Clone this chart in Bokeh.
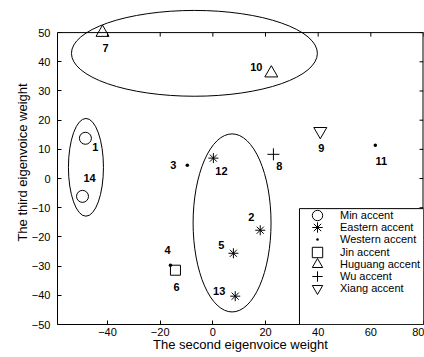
from bokeh.plotting import figure
from bokeh.models import (Range1d, FixedTicker, Span, Legend, LegendItem,
                          BoxAnnotation, ColumnDataSource)
from bokeh.core.properties import value
from bokeh.embed import file_html
from bokeh.resources import INLINE

# ---------------- data ----------------
x_ticks = [-40, -20, 0, 20, 40, 60, 80]
x_tick_labels = ["\u221240", "\u221220", "0", "20", "40", "60", "80"]
y_ticks = [-50, -40, -30, -20, -10, 0, 10, 20, 30, 40, 50]
y_tick_labels = ["\u221250", "\u221240", "\u221230", "\u221220", "\u221210", "0",
                 "10", "20", "30", "40", "50"]

min_ids = ["1", "14"]
min_x = [-48.4, -49.5]
min_y = [13.8, -6.1]

eastern_ids = ["12", "2", "5", "13"]
eastern_x = [0.2, 18.0, 7.8, 8.5]
eastern_y = [7.0, -17.7, -25.6, -40.3]

western_ids = ["3", "11", "4"]
western_x = [-9.7, 61.7, -16.1]
western_y = [4.6, 11.4, -29.7]

jin_ids = ["6"]
jin_x = [-14.2]
jin_y = [-31.4]

huguang_ids = ["7", "10"]
huguang_x = [-41.9, 22.2]
huguang_y = [50.0, 36.1]

wu_ids = ["8"]
wu_x = [23.0]
wu_y = [8.3]

xiang_ids = ["9"]
xiang_x = [40.8]
xiang_y = [16.2]

# cluster ellipses (centre, width, height in data units)
ellipse_cx = [-7.0, -48.2, 7.3]
ellipse_cy = [42.9, 3.85, -15.2]
ellipse_w = [93.4, 13.3, 29.6]
ellipse_h = [29.4, 33.5, 61.0]

# ---------------- styling ----------------
FONT = "Liberation Sans"
X_START, X_END = -59, 80
Y_START, Y_END = -50, 61
FIG_W, FIG_H = 424, 357
BORDER_L, BORDER_R, BORDER_T, BORDER_B = 57, 1, 0, 33
FRAME_W = FIG_W - BORDER_L - BORDER_R
FRAME_H = FIG_H - BORDER_T - BORDER_B
TICK = 4  # px, inward

# label offsets (screen px) for each point id
label_offsets = {"1": (10, 9), "14": (7, -18), "7": (3, 15), "10": (-15, -6),
                 "3": (-14, 0), "12": (8, 13), "8": (6, 12), "9": (1, 17),
                 "11": (6, 16), "2": (-9, -13), "5": (-12, -8), "13": (-16, -5),
                 "4": (-3, -15), "6": (1, 17)}

groups = [
    ("Min accent", "circle", 12, min_x, min_y, min_ids, None),
    ("Eastern accent", "asterisk", 10, eastern_x, eastern_y, eastern_ids, None),
    ("Western accent", "dot", 14, western_x, western_y, western_ids, "black"),
    ("Jin accent", "square", 10, jin_x, jin_y, jin_ids, None),
    ("Huguang accent", "triangle", 13, huguang_x, huguang_y, huguang_ids, None),
    ("Wu accent", "cross", 12, wu_x, wu_y, wu_ids, None),
    ("Xiang accent", "inverted_triangle", 13, xiang_x, xiang_y, xiang_ids, None),
]

p = figure(width=FIG_W, height=FIG_H,
           x_range=Range1d(X_START, X_END), y_range=Range1d(Y_START, Y_END),
           output_backend="svg", toolbar_location=None,
           min_border_left=BORDER_L, min_border_right=BORDER_R,
           min_border_top=BORDER_T, min_border_bottom=BORDER_B)
p.outline_line_color = None
p.xgrid.visible = False
p.ygrid.visible = False
p.background_fill_color = "white"
p.border_fill_color = "white"

# axes
xa = p.xaxis[0]
xa.ticker = FixedTicker(ticks=x_ticks)
xa.major_label_overrides = {t: l for t, l in zip(x_ticks, x_tick_labels)}
xa.axis_label = "The second eigenvoice weight"

ya = p.yaxis[0]
ya.ticker = FixedTicker(ticks=y_ticks)
ya.major_label_overrides = {t: l for t, l in zip(y_ticks, y_tick_labels)}
ya.axis_label = "The third eigenvoice weight"
ya.bounds = (y_ticks[0], y_ticks[-1])

for ax in (xa, ya):
    ax.major_tick_in = TICK
    ax.major_tick_out = 0
    ax.minor_tick_in = 0
    ax.minor_tick_out = 0
    ax.axis_line_color = "black"
    ax.major_tick_line_color = "black"
    ax.major_label_text_font = FONT
    ax.axis_label_text_font = FONT
    ax.axis_label_text_font_style = "normal"
    ax.axis_label_text_color = "black"
    ax.major_label_text_color = "black"
    ax.major_label_text_font_size = "11px"
    ax.axis_label_text_font_size = "13px"
xa.major_label_standoff = 3
xa.axis_label_standoff = -2
ya.major_label_standoff = 7
ya.axis_label_standoff = -1

# top and right box lines with inward ticks
tick_y = TICK * (Y_END - Y_START) / FRAME_H
tick_x = TICK * (X_END - X_START) / FRAME_W
p.add_layout(Span(location=y_ticks[-1], dimension="width", line_color="black", line_width=1))
p.segment(x0=x_ticks, y0=[y_ticks[-1]] * len(x_ticks), x1=x_ticks,
          y1=[y_ticks[-1] - tick_y] * len(x_ticks), line_color="black", line_width=1)
p.segment(x0=[X_END], y0=[y_ticks[0]], x1=[X_END], y1=[y_ticks[-1]],
          line_color="black", line_width=2)
p.segment(x0=[X_END] * len(y_ticks), y0=y_ticks, x1=[X_END - tick_x] * len(y_ticks),
          y1=y_ticks, line_color="black", line_width=1)

# ellipses
p.ellipse(x=ellipse_cx, y=ellipse_cy, width=ellipse_w, height=ellipse_h,
          fill_color=None, line_color="black", line_width=1)

# points and labels
renderers = []
lx, ly, lt, ldx, ldy = [], [], [], [], []
for name, marker, size, xs, ys, ids, fill in groups:
    r = p.scatter(x=xs, y=ys, marker=marker, size=size, line_color="black",
                  fill_color=fill, line_width=1)
    renderers.append((name, r))
    for x, y, i in zip(xs, ys, ids):
        lx.append(x); ly.append(y); lt.append(i)
        ldx.append(label_offsets[i][0]); ldy.append(label_offsets[i][1])

src = ColumnDataSource(dict(x=lx, y=ly, text=lt, dx=ldx, dy=ldy))
p.text(x="x", y="y", text="text", x_offset="dx", y_offset="dy", source=src,
       text_align="center", text_baseline="middle", text_font=value(FONT),
       text_font_size="11px", text_font_style="bold", text_color="black")

# legend box
legend_box_left = 32.9
legend_box_top = -10.3
p.add_layout(BoxAnnotation(left=legend_box_left, right=X_END, top=legend_box_top,
                           bottom=Y_START, fill_color="white", fill_alpha=1,
                           line_color="black", line_alpha=1, line_width=1,
                           level="annotation"))

# legend: one single-row legend per entry so that the keys can be large
# while the rows stay tight
GLYPH = 26
ROW_STEP = 12.17
FIRST_ROW = 215          # px below frame top of first row centre
LEGEND_X = 247           # px from frame left
for k, (name, r) in enumerate(renderers):
    row_c = FIRST_ROW + k * ROW_STEP
    vy = round(FRAME_H - (row_c + GLYPH / 2))
    lg = Legend(items=[LegendItem(label=name, renderers=[r])], location=(LEGEND_X, vy),
                padding=0, margin=0, glyph_width=GLYPH, glyph_height=GLYPH,
                label_height=GLYPH, spacing=0, label_standoff=10,
                label_text_font=FONT, label_text_font_size="11px",
                label_text_color="black", border_line_color=None,
                background_fill_alpha=0)
    p.add_layout(lg, "center")

open("out.html", "w").write(file_html(p, INLINE))
